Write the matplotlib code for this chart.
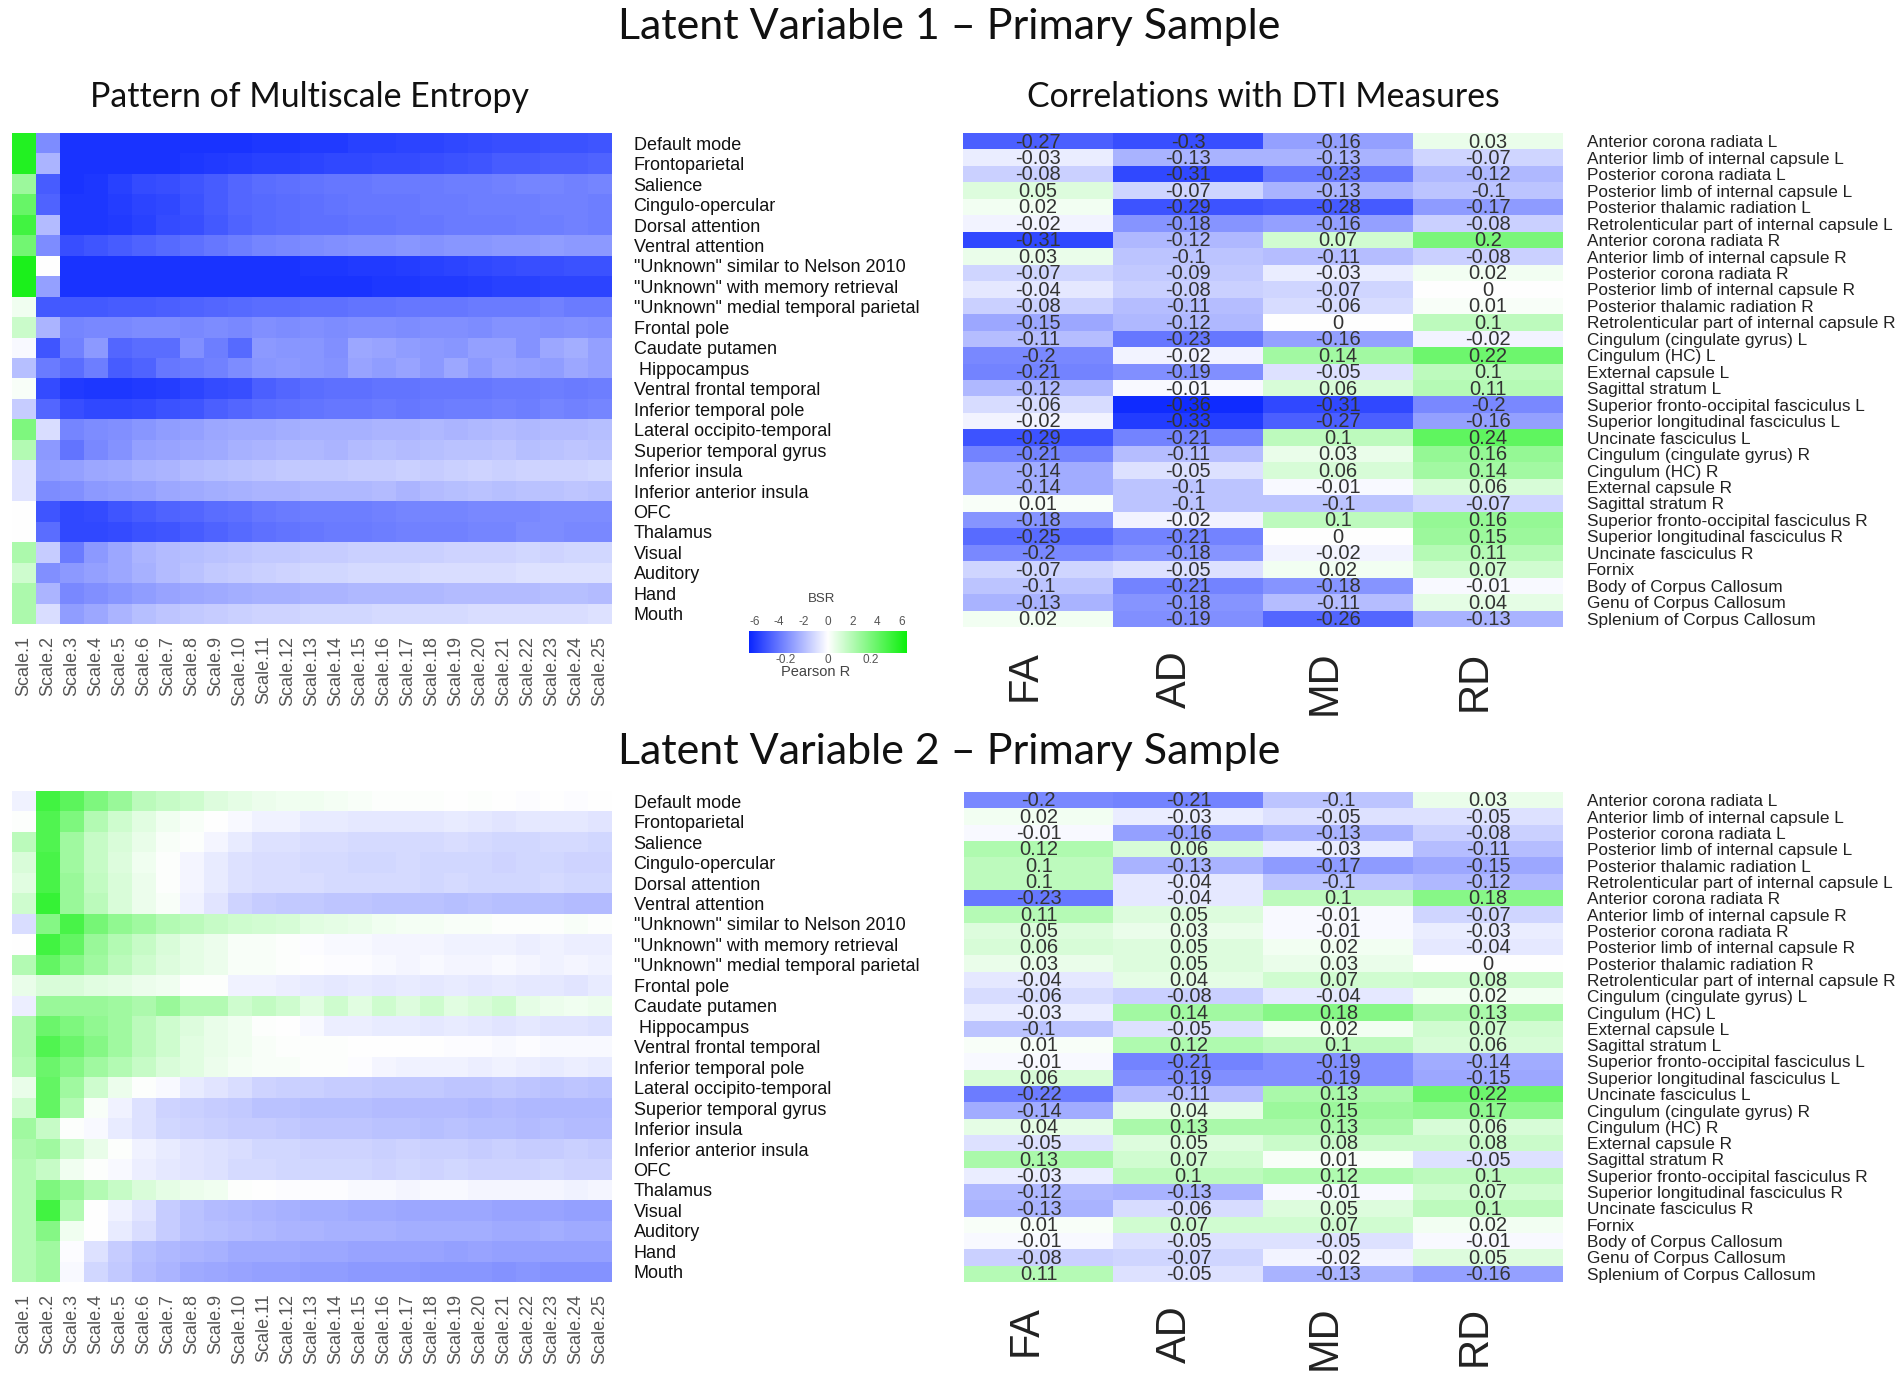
import numpy as np
import matplotlib
matplotlib.use("Agg")
import matplotlib.pyplot as plt
from matplotlib.colors import LinearSegmentedColormap, Normalize
from matplotlib import font_manager as fm

# ---------------- data ----------------
scales = [f"Scale.{i}" for i in range(1, 26)]
networks = ['Default mode', 'Frontoparietal', 'Salience', 'Cingulo-opercular', 'Dorsal attention',
            'Ventral attention', '"Unknown" similar to Nelson 2010', '"Unknown" with memory retrieval',
            '"Unknown" medial temporal parietal', 'Frontal pole', 'Caudate putamen', ' Hippocampus',
            'Ventral frontal temporal', 'Inferior temporal pole', 'Lateral occipito-temporal',
            'Superior temporal gyrus', 'Inferior insula', 'Inferior anterior insula', 'OFC', 'Thalamus',
            'Visual', 'Auditory', 'Hand', 'Mouth']
tracts = ['Anterior corona radiata L', 'Anterior limb of internal capsule L', 'Posterior corona radiata L',
          'Posterior limb of internal capsule L', 'Posterior thalamic radiation L',
          'Retrolenticular part of internal capsule L', 'Anterior corona radiata R',
          'Anterior limb of internal capsule R', 'Posterior corona radiata R',
          'Posterior limb of internal capsule R', 'Posterior thalamic radiation R',
          'Retrolenticular part of internal capsule R', 'Cingulum (cingulate gyrus) L', 'Cingulum (HC) L',
          'External capsule L', 'Sagittal stratum L', 'Superior fronto-occipital fasciculus L',
          'Superior longitudinal fasciculus L', 'Uncinate fasciculus L', 'Cingulum (cingulate gyrus) R',
          'Cingulum (HC) R', 'External capsule R', 'Sagittal stratum R',
          'Superior fronto-occipital fasciculus R', 'Superior longitudinal fasciculus R',
          'Uncinate fasciculus R', 'Fornix', 'Body of Corpus Callosum', 'Genu of Corpus Callosum',
          'Splenium of Corpus Callosum']
measures = ['FA', 'AD', 'MD', 'RD']

# LV1 bootstrap ratios (rows = networks, cols = scales 1..25)
lv1_bsr = [
    [5.8, -3.4, -6.0, -6.0, -6.0, -6.0, -6.0, -6.0, -6.0, -6.0, -5.9, -5.9, -5.8, -5.8, -5.6, -5.6, -5.5, -5.5, -5.4, -5.3, -5.2, -5.2, -5.1, -5.1, -5.0],
    [5.8, -2.2, -6.0, -6.0, -6.0, -6.0, -6.0, -5.9, -5.8, -5.7, -5.6, -5.6, -5.5, -5.4, -5.4, -5.3, -5.3, -5.2, -5.1, -5.0, -4.8, -4.8, -4.7, -4.7, -4.6],
    [2.6, -4.8, -6.0, -5.9, -5.6, -5.3, -5.2, -5.0, -4.8, -4.5, -4.3, -4.2, -4.1, -4.0, -4.0, -3.9, -3.9, -3.9, -3.8, -3.8, -3.7, -3.6, -3.6, -3.7, -3.6],
    [4.0, -4.6, -5.9, -5.9, -5.7, -5.5, -5.4, -5.1, -4.8, -4.5, -4.4, -4.3, -4.2, -4.1, -4.0, -4.0, -4.0, -3.9, -3.9, -3.8, -3.8, -3.8, -3.7, -3.7, -3.8],
    [5.0, -2.0, -5.9, -5.9, -5.8, -5.6, -5.3, -5.2, -4.9, -4.6, -4.4, -4.3, -4.2, -4.2, -4.1, -4.1, -4.0, -4.0, -3.9, -3.9, -3.9, -3.8, -3.8, -3.7, -3.8],
    [3.7, -3.4, -5.2, -5.0, -4.8, -4.6, -4.4, -4.2, -4.0, -3.8, -3.6, -3.5, -3.4, -3.3, -3.2, -3.2, -3.1, -3.2, -3.1, -3.1, -3.0, -3.0, -2.9, -3.0, -3.0],
    [6.0, 0.0, -6.0, -6.0, -6.0, -6.0, -6.0, -6.0, -6.0, -6.0, -6.0, -6.0, -5.9, -5.9, -5.8, -5.8, -5.7, -5.6, -5.5, -5.4, -5.3, -5.2, -5.2, -5.1, -5.1],
    [6.0, -2.8, -6.0, -6.0, -6.0, -6.0, -6.0, -6.0, -6.0, -6.0, -6.0, -6.0, -6.0, -6.0, -6.0, -5.9, -5.9, -5.8, -5.8, -5.7, -5.6, -5.6, -5.5, -5.5, -5.5],
    [0.4, -4.9, -4.9, -4.9, -4.8, -4.8, -4.7, -4.6, -4.5, -4.4, -4.3, -4.3, -4.2, -4.2, -4.1, -4.1, -4.0, -4.0, -4.0, -3.9, -3.9, -3.9, -3.7, -3.9, -3.9],
    [1.4, -2.2, -3.6, -3.5, -3.5, -3.4, -3.4, -3.5, -3.4, -3.5, -3.3, -3.4, -3.3, -3.4, -3.3, -3.3, -3.4, -3.3, -3.3, -3.4, -3.2, -3.2, -3.3, -3.2, -3.3],
    [-0.2, -5.0, -3.7, -3.0, -4.5, -4.3, -4.3, -3.3, -3.8, -4.4, -3.0, -3.1, -3.1, -3.3, -2.6, -2.7, -2.9, -3.0, -3.1, -2.8, -2.8, -3.2, -2.6, -2.4, -2.8],
    [-1.9, -3.9, -4.3, -3.8, -4.8, -4.6, -4.0, -3.9, -3.7, -3.4, -3.1, -3.0, -3.1, -3.2, -2.7, -2.9, -2.7, -3.0, -2.6, -3.0, -2.7, -2.8, -2.9, -2.6, -2.8],
    [0.2, -5.3, -5.8, -5.9, -5.9, -5.8, -5.7, -5.5, -5.3, -5.2, -4.7, -4.5, -4.3, -4.2, -4.2, -4.1, -4.1, -4.0, -4.0, -4.0, -3.9, -3.9, -3.8, -3.9, -3.8],
    [-1.5, -4.5, -5.2, -5.4, -5.4, -5.3, -5.1, -5.0, -4.7, -4.5, -4.3, -4.2, -4.1, -4.0, -4.0, -3.9, -4.0, -3.9, -3.8, -3.8, -3.7, -3.8, -3.6, -3.7, -3.6],
    [3.4, -1.0, -3.6, -3.4, -3.3, -3.1, -2.9, -2.8, -2.6, -2.5, -2.5, -2.4, -2.3, -2.3, -2.3, -2.2, -2.2, -2.1, -2.2, -2.1, -2.0, -2.1, -2.0, -2.0, -1.9],
    [2.0, -3.0, -4.1, -3.5, -3.2, -2.8, -2.7, -2.6, -2.5, -2.3, -2.2, -2.1, -2.1, -2.2, -2.0, -1.9, -2.0, -1.9, -1.8, -1.8, -1.7, -1.9, -1.8, -1.7, -1.8],
    [-0.8, -2.9, -2.8, -2.6, -2.5, -2.3, -2.2, -2.0, -1.9, -1.8, -1.7, -1.6, -1.6, -1.6, -1.5, -1.5, -1.4, -1.5, -1.4, -1.3, -1.4, -1.3, -1.3, -1.3, -1.2],
    [-0.8, -3.4, -3.3, -3.0, -2.9, -2.8, -2.6, -2.5, -2.4, -2.3, -2.2, -2.2, -2.1, -2.1, -2.1, -2.0, -2.2, -2.0, -1.9, -1.8, -1.9, -1.8, -1.8, -1.7, -1.8],
    [0.0, -5.0, -5.4, -5.3, -5.0, -4.8, -4.6, -4.5, -4.3, -4.2, -4.0, -3.9, -3.8, -3.8, -3.8, -3.7, -3.6, -3.6, -3.6, -3.5, -3.5, -3.5, -3.4, -3.4, -3.4],
    [0.0, -4.3, -5.4, -5.4, -5.3, -5.1, -5.0, -4.8, -4.6, -4.4, -4.2, -4.1, -4.0, -3.9, -3.9, -3.8, -3.7, -3.7, -3.7, -3.6, -3.6, -3.4, -3.4, -3.5, -3.5],
    [2.2, -1.5, -3.9, -3.0, -2.6, -2.2, -2.0, -1.9, -1.8, -1.7, -1.6, -1.6, -1.5, -1.5, -1.4, -1.4, -1.4, -1.4, -1.3, -1.3, -1.3, -1.2, -1.3, -1.2, -1.2],
    [1.3, -3.3, -3.0, -2.8, -2.6, -2.3, -2.0, -1.8, -1.6, -1.5, -1.4, -1.3, -1.2, -1.2, -1.1, -1.1, -1.1, -1.0, -1.0, -1.0, -1.0, -0.9, -0.9, -0.9, -0.9],
    [2.2, -2.2, -3.5, -3.3, -3.1, -2.9, -2.7, -2.6, -2.5, -2.4, -2.3, -2.3, -2.2, -2.2, -2.1, -2.1, -2.1, -2.1, -2.0, -2.0, -2.0, -2.0, -1.9, -1.9, -2.0],
    [2.2, -1.0, -2.9, -2.6, -2.2, -1.9, -1.7, -1.6, -1.5, -1.4, -1.3, -1.3, -1.2, -1.2, -1.2, -1.1, -1.1, -1.1, -1.1, -1.0, -1.0, -1.0, -1.0, -1.0, -0.9],
]

# LV2 bootstrap ratios
lv2_bsr = [
    [-0.4, 5.0, 4.3, 3.4, 2.7, 1.8, 1.5, 1.3, 0.9, 0.7, 0.5, 0.4, 0.4, 0.3, 0.2, 0.1, 0.1, 0.1, 0.0, 0.1, 0.0, -0.1, 0.0, -0.1, 0.0],
    [0.1, 4.6, 3.4, 2.0, 1.3, 0.8, 0.4, 0.2, 0.0, -0.2, -0.4, -0.4, -0.6, -0.6, -0.7, -0.7, -0.7, -0.7, -0.6, -0.7, -0.8, -0.7, -0.7, -0.7, -0.8],
    [1.8, 4.6, 2.5, 1.5, 1.0, 0.6, 0.2, 0.1, -0.3, -0.6, -0.9, -0.9, -1.0, -1.0, -1.1, -1.1, -1.1, -1.1, -1.0, -1.1, -1.2, -1.2, -1.1, -1.1, -1.2],
    [1.0, 4.8, 2.5, 1.5, 0.9, 0.4, 0.1, -0.3, -0.6, -0.9, -1.0, -1.0, -1.1, -1.1, -1.2, -1.2, -1.1, -1.2, -1.2, -1.2, -1.3, -1.2, -1.2, -1.3, -1.3],
    [0.8, 4.8, 2.7, 1.6, 1.0, 0.5, 0.1, -0.3, -0.6, -0.9, -1.0, -1.0, -1.0, -1.1, -1.1, -1.1, -1.1, -1.2, -1.1, -1.2, -1.2, -1.2, -1.1, -1.2, -1.2],
    [1.3, 5.3, 2.7, 1.8, 1.0, 0.5, 0.2, -0.4, -0.8, -1.3, -1.5, -1.6, -1.6, -1.7, -1.7, -1.8, -1.8, -1.8, -1.9, -1.8, -1.9, -1.9, -1.9, -2.0, -2.0],
    [-1.0, 3.2, 4.8, 3.6, 2.9, 2.5, 2.0, 1.8, 1.5, 1.3, 1.2, 1.1, 0.8, 0.7, 0.6, 0.4, 0.3, 0.3, 0.2, 0.2, 0.1, 0.1, 0.1, 0.2, 0.1],
    [0.0, 5.0, 4.1, 2.7, 2.0, 1.5, 1.0, 0.7, 0.5, 0.2, 0.2, 0.1, -0.1, -0.2, -0.2, -0.3, -0.3, -0.3, -0.4, -0.4, -0.4, -0.5, -0.4, -0.5, -0.5],
    [2.0, 4.1, 3.2, 2.5, 1.8, 1.3, 0.9, 0.7, 0.5, 0.2, 0.2, 0.1, 0.0, -0.1, -0.1, -0.2, -0.3, -0.2, -0.3, -0.3, -0.2, -0.3, -0.4, -0.3, -0.4],
    [0.6, 1.0, 1.0, 0.8, 0.7, 0.5, 0.4, 0.1, 0.1, -0.4, -0.4, -0.5, -0.6, -0.7, -0.6, -0.7, -0.6, -0.7, -0.6, -0.7, -0.6, -0.7, -0.7, -0.8, -0.6],
    [-0.5, 2.7, 2.7, 2.7, 2.5, 2.2, 2.7, 2.0, 2.0, 1.3, 1.6, 1.3, 0.8, 1.3, 0.8, 1.3, 0.9, 1.3, 0.8, 1.0, 1.3, 0.7, 0.5, 0.4, 0.5],
    [2.2, 3.9, 3.4, 2.9, 2.5, 1.8, 1.3, 0.9, 0.6, 0.4, 0.1, 0.0, -0.2, -0.5, -0.5, -0.6, -0.6, -0.7, -0.6, -0.7, -0.8, -0.7, -0.8, -0.8, -0.9],
    [2.2, 4.6, 3.9, 3.2, 2.5, 1.8, 1.3, 0.8, 0.6, 0.4, 0.2, 0.1, 0.1, 0.1, 0.0, 0.0, 0.0, 0.0, -0.1, -0.1, -0.2, -0.1, -0.2, -0.2, -0.2],
    [2.0, 3.9, 3.2, 2.5, 2.0, 1.5, 1.0, 0.8, 0.5, 0.3, 0.2, 0.2, 0.1, 0.1, -0.1, -0.3, -0.4, -0.4, -0.4, -0.5, -0.4, -0.5, -0.6, -0.5, -0.6],
    [0.6, 4.1, 2.5, 1.3, 0.5, 0.1, -0.2, -0.6, -0.8, -1.0, -1.3, -1.4, -1.4, -1.5, -1.5, -1.6, -1.6, -1.6, -1.7, -1.7, -1.6, -1.7, -1.8, -1.7, -1.8],
    [1.3, 4.1, 2.0, 0.2, -0.4, -0.9, -1.3, -1.4, -1.5, -1.6, -1.8, -1.8, -1.9, -1.9, -1.9, -2.0, -2.0, -2.0, -2.0, -2.1, -2.0, -2.1, -2.1, -2.1, -2.1],
    [2.5, 1.5, 0.1, -0.2, -0.6, -0.9, -1.2, -1.3, -1.4, -1.5, -1.5, -1.6, -1.7, -1.7, -1.7, -1.8, -1.8, -1.9, -1.8, -1.9, -1.9, -2.0, -1.9, -2.0, -2.0],
    [2.2, 2.5, 1.3, 0.6, 0.1, -0.4, -0.6, -0.8, -0.9, -1.0, -1.2, -1.2, -1.3, -1.3, -1.3, -1.4, -1.3, -1.4, -1.4, -1.5, -1.4, -1.5, -1.5, -1.4, -1.5],
    [2.0, 1.5, 0.4, 0.1, -0.2, -0.5, -0.7, -0.8, -0.9, -1.1, -1.1, -1.2, -1.2, -1.2, -1.2, -1.3, -1.2, -1.3, -1.2, -1.3, -1.3, -1.3, -1.2, -1.3, -1.3],
    [2.0, 3.4, 2.7, 2.0, 1.5, 1.0, 0.7, 0.5, 0.4, 0.1, 0.0, -0.1, -0.1, -0.1, -0.2, -0.2, -0.3, -0.2, -0.2, -0.3, -0.3, -0.3, -0.3, -0.4, -0.3],
    [2.0, 5.0, 2.0, 0.0, -0.4, -0.8, -1.5, -1.8, -2.0, -2.1, -2.2, -2.3, -2.4, -2.4, -2.5, -2.5, -2.6, -2.6, -2.6, -2.6, -2.7, -2.7, -2.7, -2.8, -2.8],
    [2.0, 3.2, 0.4, 0.0, -0.6, -1.0, -1.5, -1.8, -1.9, -2.0, -2.1, -2.2, -2.2, -2.3, -2.3, -2.3, -2.4, -2.4, -2.4, -2.4, -2.5, -2.5, -2.4, -2.5, -2.5],
    [2.0, 2.5, -0.1, -0.9, -1.5, -1.9, -2.1, -2.2, -2.3, -2.5, -2.5, -2.5, -2.6, -2.6, -2.7, -2.7, -2.7, -2.7, -2.8, -2.7, -2.8, -2.8, -2.8, -2.8, -2.8],
    [2.0, 2.5, -0.2, -1.2, -1.6, -2.0, -2.2, -2.5, -2.6, -2.7, -2.8, -2.8, -2.9, -2.9, -3.0, -3.0, -3.0, -3.1, -3.1, -3.1, -3.2, -3.1, -3.2, -3.2, -3.2],
]

# Correlations with DTI measures (FA, AD, MD, RD)
lv1_fa = [-0.27, -0.03, -0.08, 0.05, 0.02, -0.02, -0.31, 0.03, -0.07, -0.04, -0.08, -0.15, -0.11, -0.2, -0.21,
          -0.12, -0.06, -0.02, -0.29, -0.21, -0.14, -0.14, 0.01, -0.18, -0.25, -0.2, -0.07, -0.1, -0.13, 0.02]
lv1_ad = [-0.3, -0.13, -0.31, -0.07, -0.29, -0.18, -0.12, -0.1, -0.09, -0.08, -0.11, -0.12, -0.23, -0.02, -0.19,
          -0.01, -0.36, -0.33, -0.21, -0.11, -0.05, -0.1, -0.1, -0.02, -0.21, -0.18, -0.05, -0.21, -0.18, -0.19]
lv1_md = [-0.16, -0.13, -0.23, -0.13, -0.28, -0.16, 0.07, -0.11, -0.03, -0.07, -0.06, 0, -0.16, 0.14, -0.05,
          0.06, -0.31, -0.27, 0.1, 0.03, 0.06, -0.01, -0.1, 0.1, 0, -0.02, 0.02, -0.18, -0.11, -0.26]
lv1_rd = [0.03, -0.07, -0.12, -0.1, -0.17, -0.08, 0.2, -0.08, 0.02, 0, 0.01, 0.1, -0.02, 0.22, 0.1,
          0.11, -0.2, -0.16, 0.24, 0.16, 0.14, 0.06, -0.07, 0.16, 0.15, 0.11, 0.07, -0.01, 0.04, -0.13]

lv2_fa = [-0.2, 0.02, -0.01, 0.12, 0.1, 0.1, -0.23, 0.11, 0.05, 0.06, 0.03, -0.04, -0.06, -0.03, -0.1,
          0.01, -0.01, 0.06, -0.22, -0.14, 0.04, -0.05, 0.13, -0.03, -0.12, -0.13, 0.01, -0.01, -0.08, 0.11]
lv2_ad = [-0.21, -0.03, -0.16, 0.06, -0.13, -0.04, -0.04, 0.05, 0.03, 0.05, 0.05, 0.04, -0.08, 0.14, -0.05,
          0.12, -0.21, -0.19, -0.11, 0.04, 0.13, 0.05, 0.07, 0.1, -0.13, -0.06, 0.07, -0.05, -0.07, -0.05]
lv2_md = [-0.1, -0.05, -0.13, -0.03, -0.17, -0.1, 0.1, -0.01, -0.01, 0.02, 0.03, 0.07, -0.04, 0.18, 0.02,
          0.1, -0.19, -0.19, 0.13, 0.15, 0.13, 0.08, 0.01, 0.12, -0.01, 0.05, 0.07, -0.05, -0.02, -0.13]
lv2_rd = [0.03, -0.05, -0.08, -0.11, -0.15, -0.12, 0.18, -0.07, -0.03, -0.04, 0, 0.08, 0.02, 0.13, 0.07,
          0.06, -0.14, -0.15, 0.22, 0.17, 0.06, 0.08, -0.05, 0.1, 0.07, 0.1, 0.02, -0.01, 0.05, -0.16]

bsr_ticks = [-6, -4, -2, 0, 2, 4, 6]
r_ticks = [-0.2, 0, 0.2]

# ---------------- style ----------------
def pick(names):
    for n in names:
        try:
            fm.findfont(fm.FontProperties(family=n), fallback_to_default=False)
            return n
        except Exception:
            pass
    return 'DejaVu Sans'

SANS = pick(['Liberation Sans', 'Arial', 'DejaVu Sans'])
NARROW = pick(['Liberation Sans Narrow', 'Arial Narrow'])
HAS_NARROW = NARROW != 'DejaVu Sans'
if not HAS_NARROW:
    NARROW = SANS
TITLE = pick(['Lato', 'Open Sans', 'DejaVu Sans'])

BSR_LIM = 6.45
R_LIM = 0.37
cmap = LinearSegmentedColormap.from_list('bwg', ['#0a26ff', '#ffffff', '#0cf00c'])

W, H = 1900, 1383
fig = plt.figure(figsize=(W / 100, H / 100), dpi=100)
fig.patch.set_facecolor('white')


def ax_px(x0, y0, x1, y1):
    return fig.add_axes([x0 / W, 1 - y1 / H, (x1 - x0) / W, (y1 - y0) / H])


def heat(ax, data):
    ax.imshow(np.array(data), cmap=cmap, norm=Normalize(-BSR_LIM, BSR_LIM),
              aspect='auto', interpolation='nearest')
    ax.set_xticks(range(len(scales)))
    ax.set_xticklabels(scales, rotation=90, fontsize=13, color='#555555', family=SANS)
    ax.yaxis.tick_right()
    ax.set_yticks(range(len(networks)))
    ax.set_yticklabels(networks, fontsize=13, color='#111111', family=SANS)
    ax.tick_params(axis='x', length=0, pad=8.5)
    ax.tick_params(axis='y', length=0, pad=15.5)
    for s in ax.spines.values():
        s.set_visible(False)


def fmt(v):
    if abs(v) < 1e-9:
        return '0'
    return f"{v:g}"


def table(ax, cols):
    arr = np.array(cols).T
    ax.imshow(arr, cmap=cmap, norm=Normalize(-R_LIM, R_LIM), aspect='auto', interpolation='nearest')
    nfs = 16 if HAS_NARROW else 14.5
    for i in range(arr.shape[0]):
        for j in range(arr.shape[1]):
            ax.text(j, i + 0.05, fmt(arr[i, j]), ha='center', va='center', fontsize=nfs,
                    color='#333333', family=NARROW)
    ax.set_xticks(np.arange(4) - 0.09)
    ax.set_xticklabels(measures, rotation=90, fontsize=30, color='#222222', family=SANS)
    ax.yaxis.tick_right()
    ax.set_yticks(range(arr.shape[0]))
    ax.set_yticklabels(tracts, fontsize=14.5 if HAS_NARROW else 12.4, color='#222222', family=NARROW)
    ax.tick_params(axis='x', length=0, pad=17)
    ax.tick_params(axis='y', length=0, pad=17)
    for s in ax.spines.values():
        s.set_visible(False)


# ---------------- titles ----------------
fig.text(949 / W, 1 - 27 / H, 'Latent Variable 1 \u2013 Primary Sample', ha='center', va='center',
         fontsize=31, family=TITLE, color='#111111')
fig.text(949 / W, 1 - 752 / H, 'Latent Variable 2 \u2013 Primary Sample', ha='center', va='center',
         fontsize=31, family=TITLE, color='#111111')
fig.text(309 / W, 1 - 97 / H, 'Pattern of Multiscale Entropy', ha='center', va='center',
         fontsize=24.4, family=TITLE, color='#111111')
fig.text(1263 / W, 1 - 97 / H, 'Correlations with DTI Measures', ha='center', va='center',
         fontsize=24.3, family=TITLE, color='#111111')

# ---------------- panels ----------------
ax1 = ax_px(12, 133, 612, 624)
heat(ax1, lv1_bsr)
ax2 = ax_px(12, 791, 612, 1282)
heat(ax2, lv2_bsr)

t1 = ax_px(963, 133, 1563, 627)
table(t1, [lv1_fa, lv1_ad, lv1_md, lv1_rd])
t2 = ax_px(964, 792, 1563, 1282)
table(t2, [lv2_fa, lv2_ad, lv2_md, lv2_rd])

# ---------------- colorbar ----------------
cax = ax_px(749, 631, 907, 653)
grad = np.linspace(-BSR_LIM, BSR_LIM, 512)[None, :]
cax.imshow(grad, cmap=cmap, norm=Normalize(-BSR_LIM, BSR_LIM), aspect='auto',
           extent=(-BSR_LIM, BSR_LIM, 0, 1))
cax.set_xlim(-BSR_LIM, BSR_LIM)
cax.set_yticks([])
cax.xaxis.tick_top()
cax.set_xticks(bsr_ticks)
cax.set_xticklabels([str(t) for t in bsr_ticks], fontsize=8.5, color='#555555', family=SANS)
cax.tick_params(axis='x', length=0, pad=2)
for s in cax.spines.values():
    s.set_visible(False)
k = BSR_LIM / R_LIM
sec = cax.secondary_xaxis('bottom', functions=(lambda b: b / k, lambda r: r * k))
sec.set_xticks(r_ticks)
sec.set_xticklabels([fmt(t) for t in r_ticks], fontsize=8.5, color='#555555', family=SANS)
sec.tick_params(length=0, pad=1)
sec.spines['bottom'].set_visible(False)
fig.text(822 / W, 1 - 599 / H, 'BSR', ha='center', va='center', fontsize=9.5, color='#444444', family=SANS)
fig.text(816 / W, 1 - 672 / H, 'Pearson R', ha='center', va='center', fontsize=10.5, color='#444444', family=SANS)

fig.savefig('out.png', dpi=100, facecolor='white')
